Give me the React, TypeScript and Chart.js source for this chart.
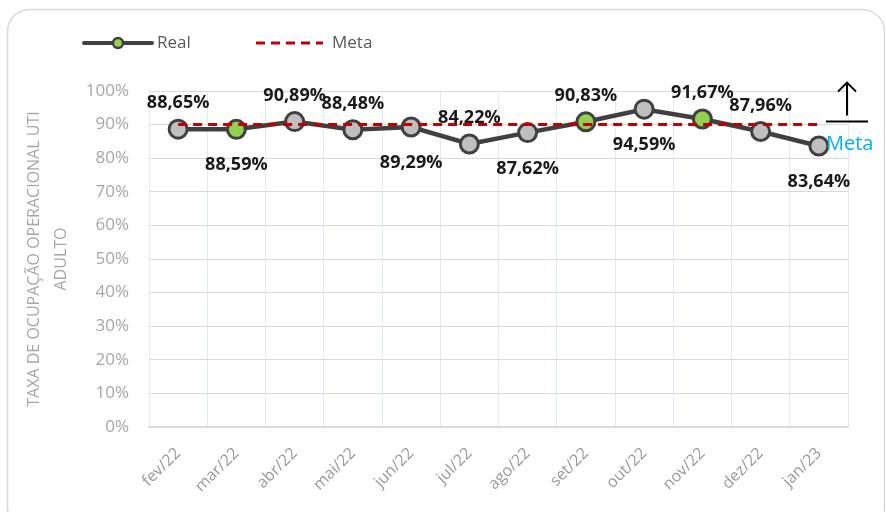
import React, { useEffect, useRef } from "react";
import { Chart, registerables } from "chart.js";

Chart.register(...registerables);

const categories = ["fev/22", "mar/22", "abr/22", "mai/22", "jun/22", "jul/22", "ago/22", "set/22", "out/22", "nov/22", "dez/22", "jan/23"];
const realValues = [88.65, 88.59, 90.89, 88.48, 89.29, 84.22, 87.62, 90.83, 94.59, 91.67, 87.96, 83.64];
const metaValues = [90, 90, 90, 90, 90, 90, 90, 90, 90, 90, 90, 90];
const greenMarkers = [false, true, false, false, false, false, false, true, false, true, false, false];
const labelPlacement = ["above", "below", "above", "above", "below", "above", "below", "above", "below", "above", "above", "below"];
const yTickValues = [0, 10, 20, 30, 40, 50, 60, 70, 80, 90, 100];
const yTitle = ["TAXA DE OCUPAÇÃO OPERACIONAL UTI", "ADULTO"];

const W = 886;
const H = 512;
const FONT = "'Open Sans', 'DejaVu Sans', sans-serif";
const DARK = "#404040";
const GRAY_FILL = "#bfbfbf";
const GREEN_FILL = "#92d050";
const RED = "#c00000";
const TICK_GRAY = "#a6a6a6";

const fmt = (v: number) => v.toFixed(2).replace(".", ",") + "%";

const decorPlugin = {
  id: "decor",
  beforeDraw(chart: any) {
    const ctx = chart.ctx;
    ctx.save();
    ctx.fillStyle = "#ffffff";
    ctx.fillRect(0, 0, W, H);
    const x = 7.5, y = 9.5, w = 877, h = 520, r = 22;
    ctx.beginPath();
    ctx.moveTo(x + r, y);
    ctx.lineTo(x + w - r, y);
    ctx.arcTo(x + w, y, x + w, y + r, r);
    ctx.lineTo(x + w, y + h - r);
    ctx.arcTo(x + w, y + h, x + w - r, y + h, r);
    ctx.lineTo(x + r, y + h);
    ctx.arcTo(x, y + h, x, y + h - r, r);
    ctx.lineTo(x, y + r);
    ctx.arcTo(x, y, x + r, y, r);
    ctx.closePath();
    ctx.strokeStyle = "#d9d9d9";
    ctx.lineWidth = 1.5;
    ctx.stroke();
    ctx.restore();
  },
  afterDraw(chart: any) {
    const ctx = chart.ctx;
    const { chartArea } = chart;
    const yScale = chart.scales.y;
    ctx.save();

    // Legend
    const ly = 43;
    ctx.lineCap = "round";
    ctx.strokeStyle = DARK;
    ctx.lineWidth = 4;
    ctx.beginPath();
    ctx.moveTo(84, ly);
    ctx.lineTo(152, ly);
    ctx.stroke();
    ctx.beginPath();
    ctx.arc(118, ly, 5, 0, Math.PI * 2);
    ctx.fillStyle = GREEN_FILL;
    ctx.fill();
    ctx.lineWidth = 2.5;
    ctx.stroke();
    ctx.font = `17px ${FONT}`;
    ctx.fillStyle = "#595959";
    ctx.textBaseline = "middle";
    ctx.textAlign = "left";
    ctx.fillText("Real", 157, ly);

    ctx.lineCap = "butt";
    ctx.strokeStyle = RED;
    ctx.lineWidth = 3;
    ctx.setLineDash([9, 6]);
    ctx.beginPath();
    ctx.moveTo(256, ly);
    ctx.lineTo(323, ly);
    ctx.stroke();
    ctx.setLineDash([]);
    ctx.fillText("Meta", 332, ly);

    // Meta arrow annotation
    const metaY = yScale.getPixelForValue(90);
    const ax = chartArea.right - 1;
    ctx.strokeStyle = "#000000";
    ctx.lineWidth = 2;
    ctx.beginPath();
    ctx.moveTo(ax, metaY - 42);
    ctx.lineTo(ax, metaY - 9);
    ctx.moveTo(ax - 9, metaY - 33);
    ctx.lineTo(ax, metaY - 42);
    ctx.lineTo(ax + 9, metaY - 33);
    ctx.moveTo(chartArea.right - 22, metaY - 3);
    ctx.lineTo(chartArea.right + 20, metaY - 3);
    ctx.stroke();
    ctx.font = `20px ${FONT}`;
    ctx.fillStyle = "#00b0f0";
    ctx.textAlign = "left";
    ctx.fillText("Meta", chartArea.right - 22, metaY + 20);

    // Data labels
    const meta = chart.getDatasetMeta(1);
    ctx.font = `bold 18px ${FONT}`;
    ctx.fillStyle = "#1a1a1a";
    ctx.textAlign = "center";
    meta.data.forEach((pt: any, i: number) => {
      const above = labelPlacement[i] === "above";
      const yy = above ? pt.y - 26 : pt.y + 36;
      ctx.fillText(fmt(realValues[i]), pt.x, yy);
    });
    ctx.restore();
  },
};

export default function App() {
  const ref = useRef<HTMLCanvasElement | null>(null);
  useEffect(() => {
    if (!ref.current) return;
    const chart = new Chart(ref.current, {
      type: "line",
      data: {
        labels: categories,
        datasets: [
          {
            label: "Meta",
            data: metaValues,
            borderColor: RED,
            borderWidth: 3,
            borderDash: [9, 6],
            pointRadius: 0,
            fill: false,
            order: 0,
          },
          {
            label: "Real",
            data: realValues,
            borderColor: DARK,
            borderWidth: 4.5,
            pointRadius: 9,
            pointBorderWidth: 3,
            pointBorderColor: DARK,
            pointBackgroundColor: greenMarkers.map((g) => (g ? GREEN_FILL : GRAY_FILL)),
            fill: false,
            order: 1,
          },
        ],
      },
      options: {
        responsive: false,
        animation: false,
        devicePixelRatio: 1,
        layout: { padding: { left: 0, top: 91, right: 38, bottom: 0 } },
        plugins: {
          legend: { display: false },
          tooltip: { enabled: false },
        },
        scales: {
          x: {
            offset: true,
            grid: { color: "#ddebf7", lineWidth: 1, offset: true, drawTicks: false },
            border: { color: "#d9d9d9", width: 1.5 },
            ticks: {
              autoSkip: false,
              minRotation: 45,
              maxRotation: 45,
              padding: 17,
              color: "#999999",
              font: { family: FONT, size: 16 },
            },
            afterFit: (s: any) => {
              s.height = 85;
            },
          },
          y: {
            min: 0,
            max: 100,
            afterBuildTicks: (s: any) => {
              s.ticks = yTickValues.map((v) => ({ value: v }));
            },
            grid: { color: "#d9d9d9", lineWidth: 1, drawTicks: false },
            border: { display: false },
            ticks: {
              padding: 20,
              color: TICK_GRAY,
              font: { family: FONT, size: 17 },
              callback: (v: any) => v + "%",
            },
            title: {
              display: true,
              text: yTitle,
              color: TICK_GRAY,
              font: { family: FONT, size: 16, lineHeight: 1.69 },
              padding: { top: 21, bottom: 0 },
            },
            afterFit: (s: any) => {
              s.width = 149;
            },
          },
        },
      },
      plugins: [decorPlugin],
    });
    return () => chart.destroy();
  }, []);
  return (
    <div style={{ position: "fixed", left: 0, top: 0, width: W, height: H }}>
      <canvas ref={ref} width={W} height={H} style={{ width: W, height: H, display: "block" }} />
    </div>
  );
}
